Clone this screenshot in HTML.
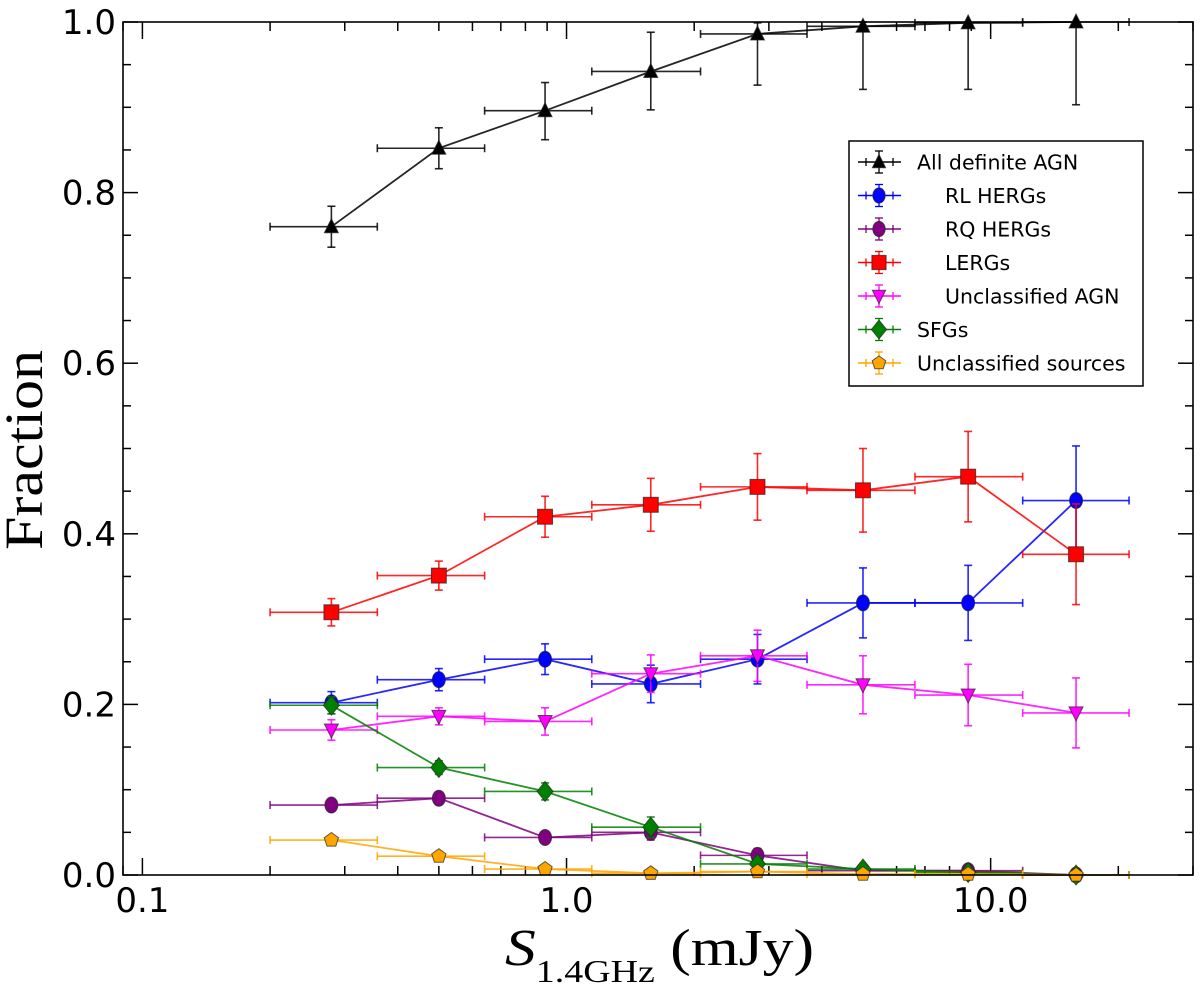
<!DOCTYPE html>
<html><head><meta charset="utf-8">
<style>
html,body{margin:0;padding:0;background:#fff;}
svg{display:block;}
text{font-family:"DejaVu Sans","Liberation Sans",sans-serif;}
</style></head>
<body>
<svg id="chart" width="1200" height="989" viewBox="0 0 1200 989" xmlns="http://www.w3.org/2000/svg">
  <rect x="0" y="0" width="1200" height="989" fill="#fff"/>
  <g id="ticks"></g>
  <g id="series"></g>
  <rect x="123" y="22" width="1070" height="853" fill="none" stroke="#000" stroke-width="1.6"/>
  <g id="labels"></g>
  <text x="24" y="450" transform="rotate(-90 24 450)" text-anchor="middle" dominant-baseline="central" font-size="54" textLength="200" lengthAdjust="spacingAndGlyphs" style="font-family:'Liberation Serif',serif">Fraction</text>
  <text x="505" y="965" text-anchor="start" style="font-family:'Liberation Serif',serif" font-size="52" textLength="309" lengthAdjust="spacingAndGlyphs"><tspan font-style="italic">S</tspan><tspan font-size="32" dy="17">1.4GHz</tspan><tspan dy="-17"> (mJy)</tspan></text>
  <g id="legend">
    <rect x="849" y="141" width="294" height="245" fill="#fff" stroke="#000" stroke-width="1.5"/>
  </g>
</svg>
<script>
const categoriesMJy = [0.279, 0.50, 0.89, 1.58, 2.82, 5.0, 8.85, 15.9];
const binLow  = [0.2, 0.358, 0.641, 1.147, 2.07, 3.69, 6.63, 11.9];
const binHigh = [0.358, 0.641, 1.147, 2.07, 3.69, 6.63, 11.9, 21.2];

const allAgn      = [0.760, 0.852, 0.896, 0.942, 0.986, 0.995, 0.999, 1.0];
const allAgnErrLo = [0.024, 0.024, 0.034, 0.045, 0.060, 0.074, 0.078, 0.097];
const allAgnErrHi = [0.024, 0.024, 0.033, 0.046, 0.013, 0.005, 0.001, 0.0];
const rlHergs     = [0.202, 0.229, 0.253, 0.224, 0.253, 0.319, 0.319, 0.439];
const rlHergsErr  = [0.013, 0.013, 0.018, 0.022, 0.029, 0.041, 0.044, 0.064];
const rqHergs     = [0.082, 0.090, 0.044, 0.050, 0.023, 0.005, 0.005, 0.0];
const rqHergsErr  = [0.006, 0.007, 0.006, 0.009, 0.008, 0.003, 0.003, 0.0];
const lergs       = [0.308, 0.351, 0.420, 0.434, 0.455, 0.451, 0.467, 0.376];
const lergsErr    = [0.016, 0.017, 0.024, 0.031, 0.039, 0.049, 0.053, 0.059];
const uncAgn      = [0.170, 0.186, 0.180, 0.236, 0.257, 0.223, 0.211, 0.190];
const uncAgnErr   = [0.012, 0.010, 0.016, 0.022, 0.030, 0.034, 0.036, 0.041];
const sfgs        = [0.199, 0.126, 0.098, 0.056, 0.013, 0.007, 0.003, 0.0];
const sfgsErr     = [0.010, 0.008, 0.010, 0.012, 0.008, 0.004, 0.003, 0.0];
const uncSrc      = [0.041, 0.022, 0.007, 0.002, 0.004, 0.001, 0.001, 0.0];
const uncSrcErr   = [0.004, 0.003, 0.003, 0.002, 0.002, 0.001, 0.001, 0.0];

const yTickLabels = ["0.0", "0.2", "0.4", "0.6", "0.8", "1.0"];
const yTickValues = [0, 0.2, 0.4, 0.6, 0.8, 1.0];
const xTickLabels = ["0.1", "1.0", "10.0"];
const xTickValues = [0.1, 1, 10];
const legendNames = ["All definite AGN", "RL HERGs", "RQ HERGs", "LERGs", "Unclassified AGN", "SFGs", "Unclassified sources"];

const NS = "http://www.w3.org/2000/svg";
const X0 = 123, X1 = 1193, Y0 = 875, Y1 = 22;
const XMIN = 0.09, XMAX = 30;
function xs(v){ return X0 + (Math.log10(v) - Math.log10(XMIN)) / (Math.log10(XMAX) - Math.log10(XMIN)) * (X1 - X0); }
function ys(v){ return Y0 + v * (Y1 - Y0); }
function mk(tag, attrs, parent){
  const e = document.createElementNS(NS, tag);
  for (const k in attrs) e.setAttribute(k, attrs[k]);
  parent.appendChild(e);
  return e;
}
const tickG = document.getElementById('ticks');
const labG = document.getElementById('labels');
const serG = document.getElementById('series');
const legG = document.getElementById('legend');

for (let i = 0; i <= 20; i++) {
  const v = i * 0.05, y = ys(v), major = (i % 4 === 0), len = major ? 15 : 8;
  const l1 = mk('line', {x1: X0, x2: X0 + len, y1: y, y2: y, stroke: '#000', 'stroke-width': 1.5}, tickG);
  
  
  const l2 = mk('line', {x1: X1, x2: X1 - len, y1: y, y2: y, stroke: '#000', 'stroke-width': 1.5}, tickG);
  
  
}
yTickValues.forEach((v, i) => {
  const t = mk('text', {x: X0 - 7, y: ys(v) + 12, 'text-anchor': 'end', 'font-size': 34}, labG);
  t.textContent = yTickLabels[i];
  
  
});
for (let d = -2; d <= 1; d++) {
  for (let m = 1; m <= 9; m++) {
    const v = m * Math.pow(10, d);
    if (v < XMIN || v > XMAX) continue;
    const x = xs(v), len = m === 1 ? 17 : 9;
    const l1 = mk('line', {x1: x, x2: x, y1: Y0, y2: Y0 - len, stroke: '#000', 'stroke-width': 1.5}, tickG);
    
    
    const l2 = mk('line', {x1: x, x2: x, y1: Y1, y2: Y1 + len, stroke: '#000', 'stroke-width': 1.5}, tickG);
    
    
  }
}
xTickValues.forEach((v, i) => {
  const t = mk('text', {x: xs(v), y: 912, 'text-anchor': 'middle', 'font-size': 34}, labG);
  t.textContent = xTickLabels[i];
  
  
});

function marker(shape, cx, cy, color, parent, s){
  s = s || 1;
  let e;
  const st = {fill: color, stroke: '#222', 'stroke-width': 1, 'stroke-opacity': 0.7};
  if (shape === 'tri') e = mk('polygon', Object.assign({points: `${cx},${cy-8*s} ${cx-7*s},${cy+6*s} ${cx+7*s},${cy+6*s}`}, st), parent);
  else if (shape === 'tridown') e = mk('polygon', Object.assign({points: `${cx},${cy+8*s} ${cx-7*s},${cy-6*s} ${cx+7*s},${cy-6*s}`}, st), parent);
  else if (shape === 'hex') e = mk('ellipse', Object.assign({cx: cx, cy: cy, rx: 6.5*s, ry: 8*s}, st), parent);
  else if (shape === 'sq') e = mk('rect', Object.assign({x: cx-7.5*s, y: cy-7.5*s, width: 15*s, height: 15*s}, st), parent);
  else if (shape === 'dia') e = mk('polygon', Object.assign({points: `${cx},${cy-10*s} ${cx+8*s},${cy} ${cx},${cy+10*s} ${cx-8*s},${cy}`}, st), parent);
  else if (shape === 'pent') {
    const pts = [];
    for (let k = 0; k < 5; k++) { const a = -Math.PI/2 + k*2*Math.PI/5; pts.push((cx+7.5*s*Math.cos(a)).toFixed(1)+','+(cy+7.5*s*Math.sin(a)).toFixed(1)); }
    e = mk('polygon', Object.assign({points: pts.join(' ')}, st), parent);
  }
  return e;
}

function drawSeries(name, vals, errLo, errHi, color, shape){
  const g = mk('g', {}, serG);
  
  
  vals.forEach((v, i) => {
    const cx = xs(categoriesMJy[i]), cy = ys(v);
    const xa = xs(binLow[i]), xb = xs(binHigh[i]);
    const ya = ys(v - errLo[i]), yb = ys(v + errHi[i]);
    const eb = mk('g', {stroke: color, 'stroke-width': 1.6, 'stroke-opacity': 0.85}, g);
    
    
    mk('line', {x1: xa, x2: xb, y1: cy, y2: cy}, eb);
    mk('line', {x1: xa, x2: xa, y1: cy-4, y2: cy+4}, eb);
    mk('line', {x1: xb, x2: xb, y1: cy-4, y2: cy+4}, eb);
    mk('line', {x1: cx, x2: cx, y1: ya, y2: yb}, eb);
    mk('line', {x1: cx-4, x2: cx+4, y1: ya, y2: ya}, eb);
    mk('line', {x1: cx-4, x2: cx+4, y1: yb, y2: yb}, eb);
  });
  const pts = vals.map((v, i) => xs(categoriesMJy[i]).toFixed(1) + ',' + ys(v).toFixed(1)).join(' ');
  const pl = mk('polyline', {points: pts, fill: 'none', stroke: color, 'stroke-width': 1.8, 'stroke-opacity': 0.85}, g);
  
  
  vals.forEach((v, i) => {
    const m = marker(shape, xs(categoriesMJy[i]), ys(v), color, g);
    
    
  });
}

drawSeries('all-agn', allAgn, allAgnErrLo, allAgnErrHi, '#000000', 'tri');
drawSeries('rl-hergs', rlHergs, rlHergsErr, rlHergsErr, '#0000ff', 'hex');
drawSeries('rq-hergs', rqHergs, rqHergsErr, rqHergsErr, '#800080', 'hex');
drawSeries('lergs', lergs, lergsErr, lergsErr, '#ff0000', 'sq');
drawSeries('unclassified-agn', uncAgn, uncAgnErr, uncAgnErr, '#ff00ff', 'tridown');
drawSeries('sfgs', sfgs, sfgsErr, sfgsErr, '#008000', 'dia');
drawSeries('unclassified-sources', uncSrc, uncSrcErr, uncSrcErr, '#ffa500', 'pent');

const legColors = ['#000000', '#0000ff', '#800080', '#ff0000', '#ff00ff', '#008000', '#ffa500'];
const legShapes = ['tri', 'hex', 'hex', 'sq', 'tridown', 'dia', 'pent'];
const legIndent = [false, true, true, true, true, false, false];
legendNames.forEach((nm, i) => {
  const y = 162 + i * 33.5;
  const g = mk('g', {}, legG);
  
  
  const c = legColors[i];
  mk('line', {x1: 858, x2: 901, y1: y, y2: y, stroke: c, 'stroke-width': 1.6}, g);
  mk('line', {x1: 866, x2: 866, y1: y-4, y2: y+4, stroke: c, 'stroke-width': 1.3}, g);
  mk('line', {x1: 893, x2: 893, y1: y-4, y2: y+4, stroke: c, 'stroke-width': 1.3}, g);
  mk('line', {x1: 879, x2: 879, y1: y-11, y2: y+11, stroke: c, 'stroke-width': 1.3}, g);
  mk('line', {x1: 875, x2: 883, y1: y-11, y2: y-11, stroke: c, 'stroke-width': 1.3}, g);
  mk('line', {x1: 875, x2: 883, y1: y+11, y2: y+11, stroke: c, 'stroke-width': 1.3}, g);
  marker(legShapes[i], 879, y, c, g, 0.95);
  const t = mk('text', {x: legIndent[i] ? 945 : 917, y: y + 7.5, 'font-size': 20.5}, g);
  t.textContent = nm;
  
  
});
</script>
</body></html>
